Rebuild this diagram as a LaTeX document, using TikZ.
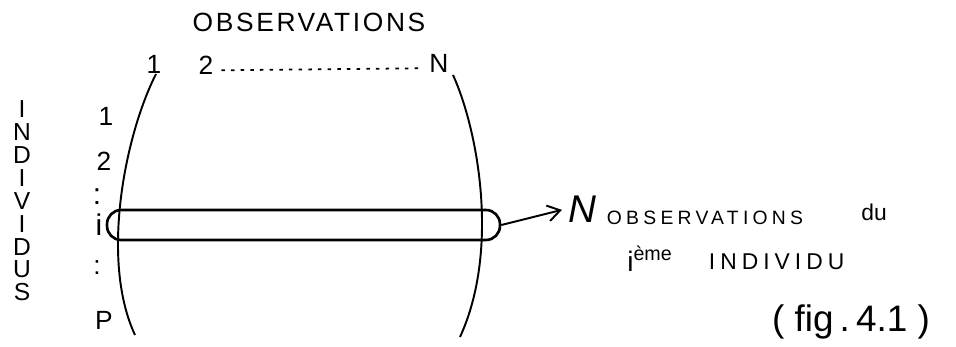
\documentclass[tikz,border=0pt]{standalone}
\usepackage{fontspec}
\setmainfont{Liberation Sans}
\newfontfamily\obsfont[LetterSpace=10]{Liberation Sans}
\newfontfamily\smallfont[LetterSpace=22]{Liberation Sans}
\usetikzlibrary{arrows.meta}

\begin{document}
\begin{tikzpicture}[x=0.02cm,y=-0.02cm,line width=1.1pt,
    lbl/.style={inner sep=0pt,font=\fontsize{15}{15}\selectfont},
    bar/.style={draw,rounded corners=0.28cm,minimum width=7.86cm,minimum height=0.6cm,inner sep=0pt,line width=1.5pt}]
\useasboundingbox (0,0) rectangle (956,347);

\node[inner sep=0pt,font=\obsfont\fontsize{15}{15}\selectfont] (obs) at (309,22) {OBSERVATIONS};
\node[lbl,anchor=south] (o1) at (154,74) {1};
\node[lbl] (o2) at (206,65) {2};
\node[lbl] (oN) at (439,63) {N};
\draw[line width=1pt,dash pattern=on 2pt off 3.5pt] ([xshift=4pt,yshift=-3pt]o2.east) -- ([xshift=-3pt,yshift=-3pt]oN.west);

\node[inner sep=0pt,align=center,font=\fontsize{14}{13}\selectfont] (indiv) at (22,201) {I\\N\\D\\I\\V\\I\\D\\U\\S};
\node[lbl] (r1) at (106,116) {1};
\node[lbl] (r2) at (104,161) {2};
\node[lbl,font=\fontsize{17}{17}\selectfont] (rd1) at (97,197) {:};
\node[lbl,font=\fontsize{17}{17}\selectfont] (ri) at (99,225) {i};
\node[lbl] (rd2) at (97,268) {:};
\node[lbl] (rp) at (104,320) {P};

\coordinate (lt) at (156,74);
\coordinate (lb) at (135,335);
\coordinate (rt) at (453,75);
\coordinate (rb) at (460,337);
\draw (lt) .. controls (125,135) and (100,260) .. (lb);
\draw (rt) .. controls (478,130) and (500,250) .. (rb);

\node[bar] (row) at (303.5,225) {};

\node[inner sep=1pt,font=\itshape\fontsize{22}{22}\selectfont] (nobs) at (582,209) {N};
\draw[-{Straight Barb[length=7pt,width=9pt]},shorten >=2pt] (row.east) -- (nobs.west);

\node[inner sep=0pt,anchor=west,font=\smallfont\fontsize{11}{11}\selectfont] (obsi) at (606,218) {OBSERVATIONS};
\node[inner sep=0pt,font=\fontsize{13}{13}\selectfont] (du) at (874,212) {du};
\node[inner sep=0pt,font=\fontsize{16}{16}\selectfont] (ieme) at (650,259) {i\textsuperscript{ème}};
\node[inner sep=0pt,anchor=west,font=\smallfont\fontsize{13}{13}\selectfont] (indi) at (708,262) {INDIVIDU};
\node[inner sep=0pt,font=\fontsize{21}{21}\selectfont] (fig) at (851,322) {( fig\,.\,4.1 )};
\end{tikzpicture}
\end{document}
